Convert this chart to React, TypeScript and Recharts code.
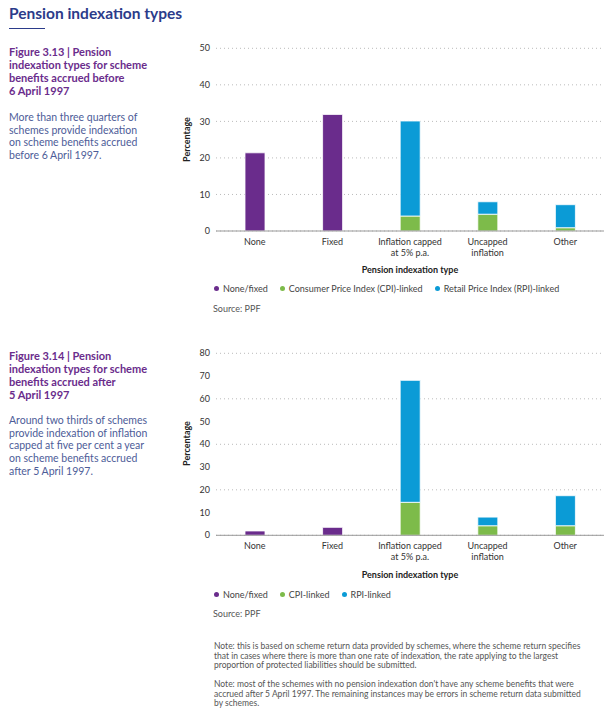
import React from 'react';
import { BarChart, Bar, XAxis, YAxis, CartesianGrid } from 'recharts';

const CATEGORIES = ['None', 'Fixed', 'Inflation capped\nat 5% p.a.', 'Uncapped\ninflation', 'Other'];

// Figure 3.13 - benefits accrued before 6 April 1997
const BEFORE_NONE_FIXED = [21.4, 31.9, 0, 0, 0];
const BEFORE_CPI = [0, 0, 4.1, 4.6, 0.9];
const BEFORE_RPI = [0, 0, 26.0, 3.4, 6.3];

// Figure 3.14 - benefits accrued after 5 April 1997
const AFTER_NONE_FIXED = [1.9, 3.5, 0, 0, 0];
const AFTER_CPI = [0, 0, 14.5, 4.2, 4.2];
const AFTER_RPI = [0, 0, 53.6, 3.8, 13.2];

const BEFORE_TICKS = [0, 10, 20, 30, 40, 50];
const AFTER_TICKS = [0, 10, 20, 30, 40, 50, 60, 70, 80];

const BEFORE_LEGEND = ['None/fixed', 'Consumer Price Index (CPI)-linked', 'Retail Price Index (RPI)-linked'];
const AFTER_LEGEND = ['None/fixed', 'CPI-linked', 'RPI-linked'];

const COLORS = ['#6a2c8c', '#7dbb4a', '#0b9bd6'];
const FONT = 'Lato, "Open Sans", sans-serif';

const buildRows = (nf: number[], cpi: number[], rpi: number[]) =>
  CATEGORIES.map((name, i) => ({
    name,
    nf: nf[i] || null,
    cpi: cpi[i] || null,
    rpi: rpi[i] || null,
  }));

const CategoryTick = (props: any) => {
  const { x, y, payload } = props;
  const lines = String(payload.value).split('\n');
  return (
    <g>
      {lines.map((line, i) => (
        <text
          key={i}
          x={x}
          y={y + 6 + i * 11}
          textAnchor="middle"
          fontSize={9}
          fill="#333"
          fontFamily={FONT}
        >
          {line}
        </text>
      ))}
    </g>
  );
};

const IndexationChart: React.FC<{
  rows: any[];
  ticks: number[];
  top: number;
  height: number;
  marginTop: number;
}> = ({ rows, ticks, top, height, marginTop }) => (
  <div style={{ position: 'absolute', left: 180, top }}>
    <BarChart
      width={424}
      height={height}
      data={rows}
      margin={{ top: marginTop, right: 0, bottom: 0, left: 0 }}
      barSize={20}
    >
      <CartesianGrid vertical={false} stroke="#bbb" strokeDasharray="1 3" />
      <XAxis
        dataKey="name"
        height={30}
        tick={<CategoryTick />}
        tickLine={false}
        axisLine={{ stroke: '#999' }}
        interval={0}
      />
      <YAxis
        width={36}
        domain={[0, ticks[ticks.length - 1]]}
        ticks={ticks}
        tickLine={false}
        axisLine={false}
        tickMargin={0}
        tick={{ fontSize: 9, fill: '#333', fontFamily: FONT }}
      />
      <Bar dataKey="nf" stackId="a" fill={COLORS[0]} stroke="#fff" strokeWidth={0.8} isAnimationActive={false} />
      <Bar dataKey="cpi" stackId="a" fill={COLORS[1]} stroke="#fff" strokeWidth={0.8} isAnimationActive={false} />
      <Bar dataKey="rpi" stackId="a" fill={COLORS[2]} stroke="#fff" strokeWidth={0.8} isAnimationActive={false} />
    </BarChart>
  </div>
);

const Legend: React.FC<{ labels: string[]; top: number }> = ({ labels, top }) => (
  <div style={{ position: 'absolute', left: 214, top, display: 'flex', fontFamily: FONT, fontSize: 9, color: '#444' }}>
    {labels.map((label, i) => (
      <div key={label} style={{ display: 'flex', alignItems: 'center', marginRight: 12 }}>
        <span style={{ width: 5, height: 5, borderRadius: '50%', background: COLORS[i], marginRight: 4 }} />
        {label}
      </div>
    ))}
  </div>
);

const abs = (left: number, top: number, extra: React.CSSProperties = {}): React.CSSProperties => ({
  position: 'absolute',
  left,
  top,
  fontFamily: FONT,
  margin: 0,
  ...extra,
});

const headStyle: React.CSSProperties = { fontSize: 11, fontWeight: 700, color: '#6a2c8c', lineHeight: '13px', width: 170 };
const bodyStyle: React.CSSProperties = { fontSize: 10.5, color: '#4d5c98', lineHeight: '12.7px', width: 170 };
const axisTitle: React.CSSProperties = { fontSize: 9, fontWeight: 700, color: '#222', width: 388, textAlign: 'center' };
const sourceStyle: React.CSSProperties = { fontSize: 9, color: '#555', lineHeight: '10px' };
const noteStyle: React.CSSProperties = { fontSize: 8.5, color: '#555', lineHeight: '9.6px', whiteSpace: 'nowrap' };

export default function App() {
  const before = buildRows(BEFORE_NONE_FIXED, BEFORE_CPI, BEFORE_RPI);
  const after = buildRows(AFTER_NONE_FIXED, AFTER_CPI, AFTER_RPI);

  return (
    <div style={{ position: 'absolute', left: 0, top: 0, width: 604, height: 712, background: '#fff', overflow: 'hidden' }}>
      <div style={abs(9, 4, { fontSize: 15.5, fontWeight: 700, color: '#2b3b8a' })}>Pension indexation types</div>
      <div style={{ position: 'absolute', left: 9, top: 28, width: 36, height: 1, background: '#2b3b8a' }} />

      <div style={abs(9, 45, headStyle)}>
        Figure 3.13 | Pension<br />indexation types for scheme<br />benefits accrued before<br />6 April 1997
      </div>
      <div style={abs(9, 111, bodyStyle)}>
        More than three quarters of<br />schemes provide indexation<br />on scheme benefits accrued<br />before 6 April 1997.
      </div>

      <div style={abs(9, 349, headStyle)}>
        Figure 3.14 | Pension<br />indexation types for scheme<br />benefits accrued after<br />5 April 1997
      </div>
      <div style={abs(9, 414, bodyStyle)}>
        Around two thirds of schemes<br />provide indexation of inflation<br />capped at five per cent a year<br />on scheme benefits accrued<br />after 5 April 1997.
      </div>

      <div style={abs(146, 134, { fontSize: 9, fontWeight: 700, color: '#222', width: 80, textAlign: 'center', transform: 'rotate(-90deg)' })}>
        Percentage
      </div>
      <IndexationChart rows={before} ticks={BEFORE_TICKS} top={30} height={231} marginTop={18.3} />
      <div style={abs(216, 264, axisTitle)}>Pension indexation type</div>
      <Legend labels={BEFORE_LEGEND} top={283} />
      <div style={abs(213, 304, sourceStyle)}>Source: PPF</div>

      <div style={abs(146, 438, { fontSize: 9, fontWeight: 700, color: '#222', width: 80, textAlign: 'center', transform: 'rotate(-90deg)' })}>
        Percentage
      </div>
      <IndexationChart rows={after} ticks={AFTER_TICKS} top={340} height={225.3} marginTop={13.3} />
      <div style={abs(216, 569, axisTitle)}>Pension indexation type</div>
      <Legend labels={AFTER_LEGEND} top={589} />
      <div style={abs(213, 609, sourceStyle)}>Source: PPF</div>

      <div style={abs(214, 642, noteStyle)}>
        Note: this is based on scheme return data provided by schemes, where the scheme return specifies<br />
        that in cases where there is more than one rate of indexation, the rate applying to the largest<br />
        proportion of protected liabilities should be submitted.
      </div>
      <div style={abs(214, 680, noteStyle)}>
        Note: most of the schemes with no pension indexation don't have any scheme benefits that were<br />
        accrued after 5 April 1997. The remaining instances may be errors in scheme return data submitted<br />
        by schemes.
      </div>
    </div>
  );
}
